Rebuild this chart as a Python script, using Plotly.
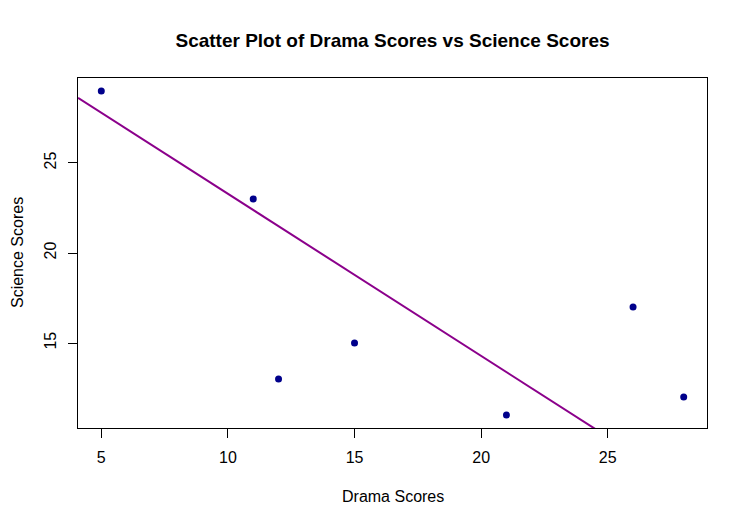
import numpy as np
import plotly.graph_objects as go

# data
drama = [5, 11, 12, 15, 21, 26, 28]
science = [29, 23, 13, 15, 11, 17, 12]

x_ticks = [5, 10, 15, 20, 25]
y_ticks = [15, 20, 25]

# the line in the reference matches abline(lm(drama ~ science))
slope, intercept = np.polyfit(science, drama, 1)

# R-style 4% padding on both axes
xpad = (max(drama) - min(drama)) * 0.04
ypad = (max(science) - min(science)) * 0.04
xr = [min(drama) - xpad, max(drama) + xpad]
yr = [min(science) - ypad, max(science) + ypad]

line_x = np.array(xr)
line_y = intercept + slope * line_x

fig = go.Figure()
fig.add_trace(go.Scatter(x=line_x, y=line_y, mode="lines",
                         line=dict(color="#8B008B", width=2),
                         hoverinfo="skip", showlegend=False))
fig.add_trace(go.Scatter(x=drama, y=science, mode="markers",
                         marker=dict(color="#00008B", size=7),
                         showlegend=False))

font = dict(family="Liberation Sans, Arial", size=16, color="black")

fig.update_xaxes(range=xr, tickvals=x_ticks, ticks="outside", ticklen=9,
                 tickcolor="black", showline=True, linecolor="black",
                 linewidth=1, mirror=True, showgrid=False, zeroline=False,
                 tickfont=font, ticklabelstandoff=6)
fig.update_yaxes(range=yr, tickvals=y_ticks, ticks="outside", ticklen=9,
                 tickcolor="black", showline=True, linecolor="black",
                 linewidth=1, mirror=True, showgrid=False, zeroline=False,
                 tickangle=-90, tickfont=font, ticklabelstandoff=6)

# page body adds an 8px offset, so the figure is 8px smaller each way
fig.update_layout(
    width=739, height=519,
    margin=dict(l=70, r=40, t=70, b=99),
    plot_bgcolor="white", paper_bgcolor="white",
    title=dict(text="<b>Scatter Plot of Drama Scores vs Science Scores</b>",
               x=0.5, xref="paper", y=1 - 32 / 519, yanchor="middle",
               font=dict(family="Liberation Sans, Arial", size=19, color="black")),
    annotations=[
        dict(text="Drama Scores", xref="paper", yref="paper", x=0.5,
             y=-68 / 350, yanchor="middle", showarrow=False, font=font),
        dict(text="Science Scores", xref="paper", yref="paper",
             x=-61 / 629, y=0.5, xanchor="center", yanchor="middle",
             textangle=-90, showarrow=False, font=font),
    ],
)

fig.write_html("out.html")
